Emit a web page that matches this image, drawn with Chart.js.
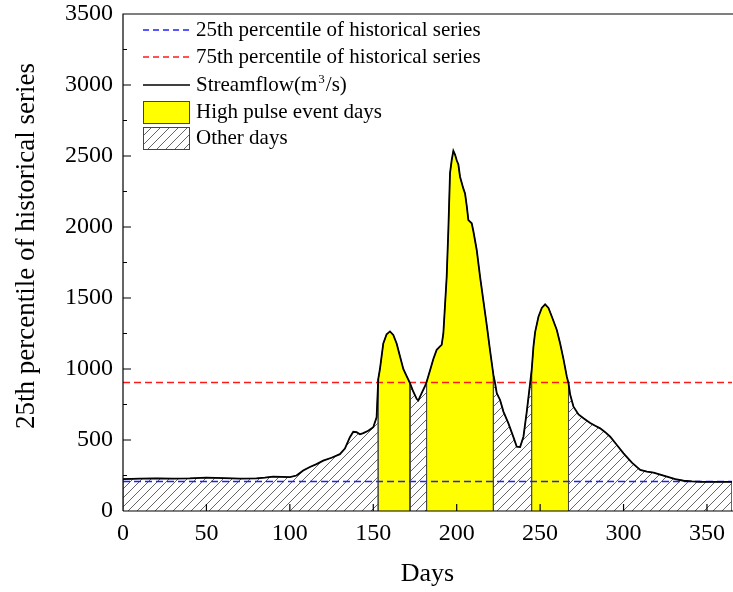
<!DOCTYPE html>
<html>
<head>
<meta charset="utf-8">
<script src="https://cdn.jsdelivr.net/npm/chart.js@4.4.1/dist/chart.umd.min.js"></script>
<style>
  html, body { margin: 0; padding: 0; background: #fff; overflow: hidden; }
  #wrap { width: 733px; height: 592px; }
</style>
</head>
<body>
<div id="wrap"><canvas id="flowChart"></canvas></div>
<script>
// streamflow (m3/s) by day of year
const flowDays = [0, 10, 20, 30, 40, 50, 60, 70, 80, 85,
  90, 95, 100, 104, 108, 112, 116, 120, 125, 130,
  133, 136, 138, 140, 142, 144, 147, 150, 152, 153,
  154, 156, 158, 160, 162, 164, 166, 168, 170, 172,
  174, 176, 177, 179, 181, 182, 184, 186, 188, 190,
  191, 192, 193, 194, 195, 196, 197, 198, 199, 200,
  201, 202, 204, 205, 206, 207, 209, 210, 212, 214,
  216, 218, 220, 222, 223, 224, 226, 228, 231, 234,
  236, 238, 240, 242, 244, 245, 246, 247, 249, 251,
  253, 255, 257, 260, 262, 264, 266, 267, 268, 270,
  273, 276, 280, 283, 286, 289, 292, 296, 300, 305,
  310, 314, 318, 322, 326, 331, 336, 341, 346, 355, 365];
const flowValues = [225, 228, 230, 228, 230, 235, 232, 228, 230, 235,
  242, 240, 238, 250, 285, 310, 330, 355, 375, 400,
  440, 520, 558, 555, 540, 548, 565, 590, 660, 930,
  1000, 1180, 1245, 1265, 1240, 1180, 1090, 1000, 950, 900,
  840, 790, 778, 830, 880, 910, 990, 1070, 1135, 1160,
  1170, 1250, 1450, 1650, 1980, 2380, 2470, 2537, 2510, 2470,
  2440, 2354, 2270, 2237, 2150, 2049, 2026, 1970, 1838, 1650,
  1480, 1310, 1130, 958, 900, 830, 782, 700, 617, 520,
  453, 450, 523, 700, 899, 1000, 1157, 1260, 1368, 1430,
  1455, 1430, 1370, 1275, 1180, 1070, 946, 900, 820, 735,
  680, 653, 620, 600, 582, 555, 523, 465, 406, 340,
  289, 278, 270, 256, 242, 225, 213, 208, 206, 205, 205];

// historical percentiles
const p25 = 208;
const p75 = 905;

// high pulse events (first and last day)
const pulseStarts = [153, 182, 245];
const pulseEnds = [172, 222, 267];

const firstDay = 0;
const lastDay = 365;

const yTitle = '25th percentile of historical series';
const legendLabels = [
  '25th percentile of historical series',
  '75th percentile of historical series',
  'Streamflow(m',
  'High pulse event days',
  'Other days'
];

const serif = "'Liberation Serif', 'Times New Roman', serif";
Chart.defaults.font.family = serif;
Chart.defaults.color = '#000';

const canvas = document.getElementById('flowChart');
const ctx = canvas.getContext('2d');

// diagonal hatching for the non-event days
function makeHatch() {
  const c = document.createElement('canvas');
  c.width = 9; c.height = 9;
  const g = c.getContext('2d');
  g.fillStyle = '#fff';
  g.fillRect(0, 0, 9, 9);
  g.strokeStyle = '#555';
  g.lineWidth = 0.9;
  g.beginPath();
  g.moveTo(-1, 10); g.lineTo(10, -1);
  g.moveTo(-1, 1); g.lineTo(1, -1);
  g.moveTo(8, 10); g.lineTo(10, 8);
  g.stroke();
  return ctx.createPattern(c, 'repeat');
}
const hatch = makeHatch();

// closed polygon of the flow between two days, down to zero
function segment(from, to) {
  const pts = [{ x: from, y: 0 }];
  flowDays.forEach((d, i) => {
    if (d >= from && d <= to) pts.push({ x: d, y: flowValues[i] });
  });
  pts.push({ x: to, y: 0 });
  return pts;
}

const otherStarts = [firstDay, ...pulseEnds];
const otherEnds = [...pulseStarts, lastDay];

const datasets = [];
otherStarts.forEach((a, i) => {
  datasets.push({
    data: segment(a, otherEnds[i]),
    backgroundColor: hatch,
    borderColor: '#555',
    borderWidth: 1,
    fill: 'origin',
    order: 3
  });
});
pulseStarts.forEach((a, i) => {
  datasets.push({
    data: segment(a, pulseEnds[i]),
    backgroundColor: '#ffff00',
    borderColor: '#444',
    borderWidth: 1,
    fill: 'origin',
    order: 2
  });
});
datasets.push({
  label: legendLabels[0],
  data: [{ x: firstDay, y: p25 }, { x: lastDay, y: p25 }],
  borderColor: '#2020ff',
  borderDash: [7, 4],
  borderWidth: 1.5,
  fill: false,
  order: 1
});
datasets.push({
  label: legendLabels[1],
  data: [{ x: firstDay, y: p75 }, { x: lastDay, y: p75 }],
  borderColor: '#ff1a1a',
  borderDash: [7, 4],
  borderWidth: 1.5,
  fill: false,
  order: 1
});
datasets.push({
  label: 'Streamflow',
  data: flowDays.map((d, i) => ({ x: d, y: flowValues[i] })),
  borderColor: '#000',
  borderWidth: 1.8,
  fill: false,
  order: 0
});

// box frame, inward tick marks, y title and the in-plot legend
const frameAndLegend = {
  id: 'frameAndLegend',
  afterDatasetsDraw(chart) {
    const { ctx, chartArea: a, scales: { x, y } } = chart;
    ctx.save();
    ctx.strokeStyle = '#000';
    ctx.lineWidth = 1.2;
    ctx.setLineDash([]);
    ctx.beginPath();
    ctx.moveTo(a.left, a.bottom); ctx.lineTo(a.left, a.top); ctx.lineTo(chart.width, a.top);
    ctx.moveTo(a.left, a.bottom); ctx.lineTo(chart.width, a.bottom);
    x.ticks.forEach(t => {
      const px = x.getPixelForValue(t.value);
      ctx.moveTo(px, a.bottom); ctx.lineTo(px, a.bottom - 7);
    });
    y.ticks.forEach((t, i) => {
      const py = y.getPixelForValue(t.value);
      ctx.moveTo(a.left, py); ctx.lineTo(a.left + 8, py);
      if (i > 0) {
        const pm = y.getPixelForValue((t.value + y.ticks[i - 1].value) / 2);
        ctx.moveTo(a.left, pm); ctx.lineTo(a.left + 4, pm);
      }
    });
    ctx.stroke();

    // rotated y-axis title
    ctx.save();
    ctx.translate(34, 246);
    ctx.rotate(-Math.PI / 2);
    ctx.fillStyle = '#000';
    ctx.font = '27px ' + serif;
    ctx.textAlign = 'center';
    ctx.textBaseline = 'alphabetic';
    ctx.fillText(yTitle, 0, 0);
    ctx.restore();

    const rows = [30, 57, 85, 112, 138];
    const sx = 143, sw = 47, tx = 196;
    ctx.lineWidth = 1.4;
    ctx.setLineDash([6, 4]);
    ctx.strokeStyle = '#2020ff';
    ctx.beginPath(); ctx.moveTo(sx, rows[0]); ctx.lineTo(sx + sw, rows[0]); ctx.stroke();
    ctx.strokeStyle = '#ff1a1a';
    ctx.beginPath(); ctx.moveTo(sx, rows[1]); ctx.lineTo(sx + sw, rows[1]); ctx.stroke();
    ctx.setLineDash([]);
    ctx.strokeStyle = '#000';
    ctx.beginPath(); ctx.moveTo(sx, rows[2]); ctx.lineTo(sx + sw, rows[2]); ctx.stroke();

    ctx.lineWidth = 1;
    ctx.strokeStyle = '#444';
    ctx.fillStyle = '#ffff00';
    ctx.fillRect(sx, rows[3] - 11, sw, 23);
    ctx.strokeRect(sx + 0.5, rows[3] - 10.5, sw - 1, 22);
    ctx.fillStyle = hatch;
    ctx.fillRect(sx, rows[4] - 11, sw, 23);
    ctx.strokeRect(sx + 0.5, rows[4] - 10.5, sw - 1, 22);

    ctx.fillStyle = '#000';
    ctx.textBaseline = 'middle';
    ctx.textAlign = 'left';
    ctx.font = '21px ' + serif;
    legendLabels.forEach((t, i) => ctx.fillText(t, tx, rows[i]));
    // superscript unit on the streamflow entry
    let ux = tx + ctx.measureText(legendLabels[2]).width + 1;
    ctx.font = '13px ' + serif;
    ctx.fillText('3', ux, rows[2] - 5);
    ux += ctx.measureText('3').width + 1;
    ctx.font = '21px ' + serif;
    ctx.fillText('/s)', ux, rows[2]);
    ctx.restore();
  }
};

new Chart(ctx, {
  type: 'line',
  data: { datasets },
  options: {
    responsive: true,
    maintainAspectRatio: false,
    animation: false,
    layout: { padding: { top: 14, right: 1, left: 0, bottom: 0 } },
    elements: { point: { radius: 0 }, line: { tension: 0 } },
    plugins: { legend: { display: false }, tooltip: { enabled: false } },
    scales: {
      x: {
        type: 'linear',
        min: firstDay,
        max: lastDay,
        grid: { display: false, drawTicks: false },
        border: { display: false },
        ticks: {
          stepSize: 50, includeBounds: false, autoSkip: false, maxRotation: 0,
          padding: 11, color: '#000', font: { size: 24, lineHeight: 1 },
          callback: v => String(v)
        },
        title: {
          display: true, text: 'Days', color: '#000',
          font: { size: 26 }, padding: { top: 0, bottom: 2 }
        },
        afterFit(s) { s.height = 81; s.paddingLeft = 0; s.paddingRight = 0; }
      },
      y: {
        min: 0,
        max: 3500,
        grid: { display: false, drawTicks: false },
        border: { display: false },
        ticks: {
          stepSize: 500, autoSkip: false, padding: 10, color: '#000',
          font: { size: 24, lineHeight: 1 },
          callback: v => String(v)
        },
        afterFit(s) { s.width = 123; s.paddingTop = 0; s.paddingBottom = 0; }
      }
    }
  },
  plugins: [frameAndLegend]
});
</script>
</body>
</html>
